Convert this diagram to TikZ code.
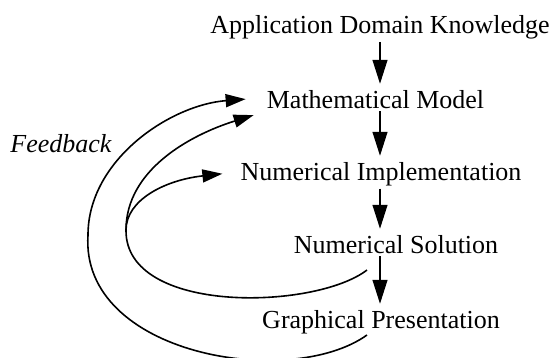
\documentclass[tikz,border=0pt]{standalone}
\usepackage{fontspec}
\setmainfont{Liberation Serif}
\usetikzlibrary{arrows.meta}
\begin{document}
\begin{tikzpicture}[x=1pt,y=-1pt,
  stage/.style={font=\fontsize{26pt}{30pt}\selectfont, inner sep=0pt, anchor=base},
  flow/.style={line width=1.2pt, -{Triangle[length=24pt,width=15pt]},
               shorten <=3pt, shorten >=6pt},
  fb/.style={line width=1.6pt, -{Triangle[length=20pt,width=13pt]}}]
\useasboundingbox (0,0) rectangle (551,357);

% pipeline stages
\node[stage] (app)   at (380,33)  {Application Domain Knowledge};
\node[stage] (math)  at (375.5,108) {Mathematical Model};
\node[stage] (impl)  at (381,180) {Numerical Implementation};
\node[stage] (sol)   at (396,253) {Numerical Solution};
\node[stage] (graph) at (381,328) {Graphical Presentation};
\node[stage, font=\fontsize{26pt}{30pt}\selectfont\itshape] (fbl) at (61,152) {Feedback};

% vertical axis of the down arrows
\coordinate (ax) at (380,0);
\draw[flow] (app.south -| ax)  -- (math.north -| ax);
\draw[flow] (math.south -| ax) -- (impl.north -| ax);
\draw[flow] (impl.south -| ax) -- (sol.north -| ax);
\draw[flow] (sol.south -| ax)  -- (graph.north -| ax);

% feedback loops
\coordinate (outerStart) at (367,335);
\coordinate (outerLeft)  at (88,235);
\coordinate (innerStart) at (367,270);
\coordinate (innerLeft)  at (126,230);

\draw[fb] (outerStart) .. controls (290,390) and (80,355) .. (outerLeft)
          .. controls (88,160) and (170,105) .. ([xshift=-21pt]math.west);
\draw[fb] (innerStart) .. controls (315,310) and (125,315) .. (innerLeft)
          .. controls (126,170) and (190,135) .. ([xshift=-13pt,yshift=-16pt]math.west);
\draw[fb] (innerLeft) .. controls (126,200) and (165,180) .. ([xshift=-18pt]impl.west);
\end{tikzpicture}
\end{document}
